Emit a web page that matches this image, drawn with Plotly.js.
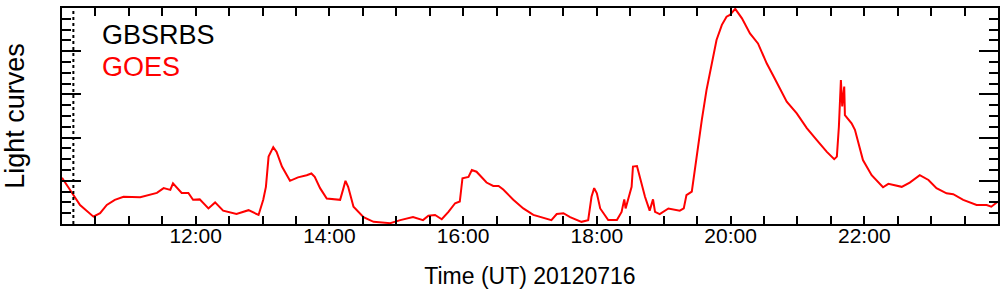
<!DOCTYPE html>
<html>
<head>
<meta charset="utf-8">
<script src="https://cdn.plot.ly/plotly-3.0.1.min.js"></script>
<style>
html,body{margin:0;padding:0;background:#fff;}
#chart{width:1004px;height:296px;}
</style>
</head>
<body>
<div id="chart"></div>
<script>
// Observation date
const obsDate = '2012-07-16';
// GOES light curve: time in decimal hours (UT) and normalised flux
const goesHours = [10.00,10.12,10.27,10.47,10.57,10.67,10.79,10.92,11.17,11.42,11.52,11.62,11.66,11.79,11.89,11.96,12.06,12.19,12.29,12.41,12.61,12.79,12.94,13.01,13.05,13.09,13.16,13.21,13.29,13.41,13.53,13.66,13.73,13.78,13.86,13.96,14.06,14.16,14.21,14.24,14.28,14.36,14.51,14.66,14.91,15.06,15.25,15.40,15.48,15.58,15.68,15.78,15.88,15.95,15.99,16.08,16.13,16.20,16.35,16.45,16.53,16.60,16.75,16.90,17.05,17.25,17.32,17.40,17.50,17.60,17.77,17.87,17.92,17.96,18.00,18.05,18.17,18.30,18.37,18.41,18.43,18.52,18.54,18.60,18.64,18.72,18.79,18.84,18.87,18.94,19.07,19.14,19.24,19.30,19.34,19.42,19.47,19.52,19.57,19.64,19.72,19.79,19.87,19.94,19.99,20.07,20.17,20.29,20.41,20.54,20.66,20.74,20.84,20.99,21.14,21.29,21.44,21.55,21.59,21.62,21.65,21.67,21.70,21.71,21.81,21.86,21.98,22.11,22.28,22.36,22.48,22.56,22.68,22.83,22.96,23.08,23.23,23.33,23.48,23.68,23.83,23.90,24.00];
const goesFlux = [1.07,0.79,0.44,0.17,0.25,0.44,0.56,0.63,0.62,0.72,0.83,0.79,0.94,0.72,0.72,0.56,0.57,0.36,0.50,0.31,0.23,0.32,0.21,0.56,0.86,1.56,1.78,1.67,1.33,1.00,1.08,1.13,1.17,1.09,0.83,0.59,0.57,0.56,0.83,1.00,0.86,0.40,0.16,0.05,0.02,0.09,0.16,0.09,0.19,0.21,0.11,0.28,0.48,0.52,1.06,1.09,1.25,1.21,0.96,0.88,0.88,0.80,0.56,0.36,0.21,0.13,0.09,0.23,0.25,0.16,0.05,0.09,0.63,0.83,0.71,0.36,0.09,0.09,0.28,0.57,0.36,0.86,1.33,1.34,1.09,0.63,0.31,0.57,0.28,0.23,0.36,0.34,0.31,0.36,0.67,0.75,1.33,1.87,2.41,3.10,3.72,4.26,4.61,4.80,4.84,4.98,4.76,4.41,4.18,3.72,3.37,3.14,2.83,2.56,2.22,1.94,1.67,1.50,1.56,2.25,3.33,2.72,3.18,2.52,2.33,2.18,1.48,1.13,0.85,0.93,0.88,0.86,0.96,1.13,1.02,0.83,0.71,0.69,0.56,0.44,0.44,0.40,0.52];
// GBSRBS start marker (decimal hours)
const gbsrbsStart = 10.17;
// Axis
const xRangeHours = [10, 24];
const labelHours = [12, 14, 16, 18, 20, 22];
const yRange = [0, 5];
const legendNames = ['GBSRBS', 'GOES'];
const xTitle = 'Time (UT) 20120716';
const yTitle = 'Light curves';

function hoursToStamp(h) {
  const base = new Date(obsDate + 'T00:00:00Z').getTime();
  const d = new Date(base + Math.round(h * 3600000));
  return d.toISOString().replace('T', ' ').slice(0, 19);
}
function pad(n){return (n<10?'0':'')+n;}

const tickVals = [], tickText = [];
for (let h = xRangeHours[0] + 0.5; h < xRangeHours[1]; h += 0.5) {
  tickVals.push(hoursToStamp(h));
  tickText.push(labelHours.indexOf(h) >= 0 ? pad(h) + ':00' : '');
}

const trace = {
  x: goesHours.map(hoursToStamp),
  y: goesFlux,
  type: 'scatter',
  mode: 'lines',
  line: {color: '#ff0000', width: 2},
  hoverinfo: 'skip',
  showlegend: false
};

const font = 'Liberation Sans, Arial, Helvetica, sans-serif';

const layout = {
  width: 1004,
  height: 296,
  margin: {l: 62, r: 6, t: 8, b: 72},
  paper_bgcolor: '#ffffff',
  plot_bgcolor: '#ffffff',
  showlegend: false,
  font: {family: font, color: '#000000'},
  xaxis: {
    type: 'date',
    range: [hoursToStamp(xRangeHours[0]), hoursToStamp(xRangeHours[1])],
    tickmode: 'array',
    tickvals: tickVals,
    ticktext: tickText,
    ticks: 'inside',
    ticklen: 8,
    tickwidth: 2,
    tickcolor: '#000000',
    ticklabelstandoff: -8,
    showline: true,
    linewidth: 2,
    linecolor: '#000000',
    mirror: 'ticks',
    showgrid: false,
    zeroline: false,
    tickfont: {size: 21, family: font, color: '#000000'},
    title: {text: xTitle, font: {size: 23, family: font, color: '#000000'}, standoff: 22}
  },
  yaxis: {
    range: yRange,
    tickmode: 'array',
    tickvals: [0, 1, 2, 3, 4, 5],
    ticks: 'inside',
    ticklen: 19,
    tickwidth: 2,
    tickcolor: '#000000',
    minor: {dtick: 0.25, tick0: 0, ticks: 'inside', ticklen: 9, tickwidth: 2, tickcolor: '#000000', showgrid: false},
    showticklabels: false,
    showline: true,
    linewidth: 2,
    linecolor: '#000000',
    mirror: 'ticks',
    showgrid: false,
    zeroline: false,
    title: {text: yTitle, font: {size: 27, family: font, color: '#000000'}, standoff: 30}
  },
  shapes: [{
    type: 'line', xref: 'x', yref: 'paper',
    x0: hoursToStamp(gbsrbsStart), x1: hoursToStamp(gbsrbsStart), y0: 0, y1: 1,
    line: {color: '#000000', width: 2, dash: 'dot'}
  }],
  annotations: [
    {text: legendNames[0], xref: 'paper', yref: 'paper', x: 0.0406, y: 0.873, xanchor: 'left', yanchor: 'middle', showarrow: false, font: {size: 27, family: font, color: '#000000'}},
    {text: legendNames[1], xref: 'paper', yref: 'paper', x: 0.0406, y: 0.728, xanchor: 'left', yanchor: 'middle', showarrow: false, font: {size: 27, family: font, color: '#ff0000'}}
  ]
};

Plotly.newPlot('chart', [trace], layout, {staticPlot: true, displayModeBar: false});
</script>
</body>
</html>
